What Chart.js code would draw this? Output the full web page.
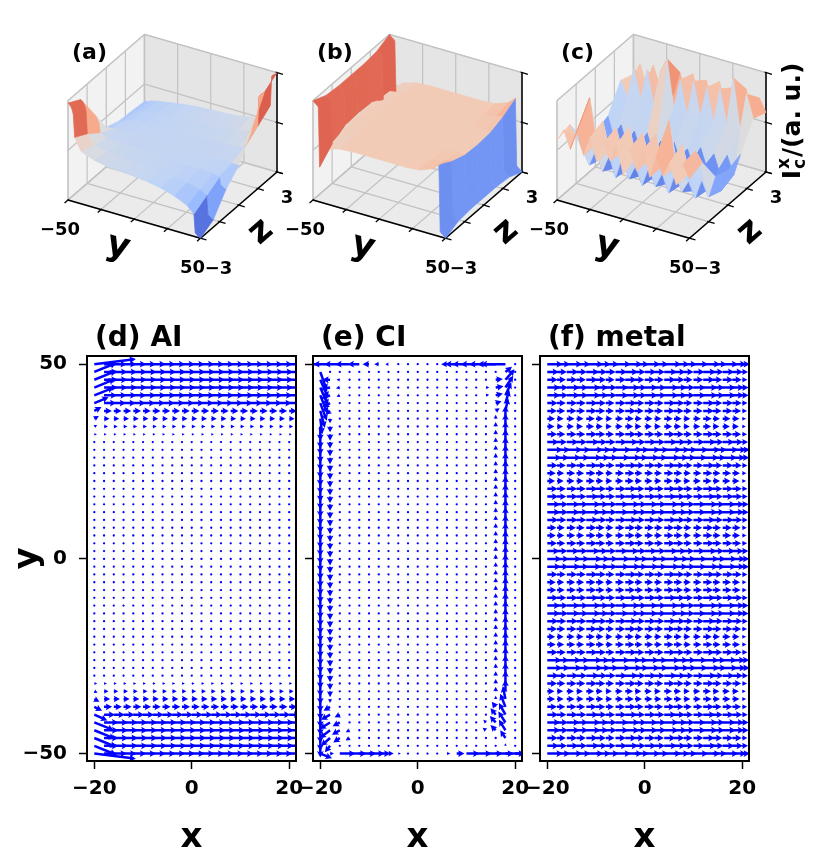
<!DOCTYPE html>
<html>
<head>
<meta charset="utf-8">
<title>Critical current surfaces and current flow</title>
<script src="https://cdn.jsdelivr.net/npm/chart.js@4.4.1/dist/chart.umd.min.js"></script>
<style>
  html, body { margin: 0; padding: 0; background: #fff; }
  #fig { position: relative; width: 830px; height: 856px; overflow: hidden; }
  #fig canvas { position: absolute; }
</style>
</head>
<body>
<div id="fig">
  <canvas id="surfA" width="292" height="268" style="left:6px; top:30px;"></canvas>
  <canvas id="surfB" width="292" height="268" style="left:251px; top:30px;"></canvas>
  <canvas id="surfC" width="325" height="268" style="left:495px; top:30px;"></canvas>
  <canvas id="quivD" width="320" height="550" style="left:0px; top:310px;"></canvas>
  <canvas id="quivE" width="262" height="550" style="left:280px; top:310px;"></canvas>
  <canvas id="quivF" width="262" height="550" style="left:507px; top:310px;"></canvas>
</div>
<script>
Chart.defaults.font.family = "'DejaVu Sans', 'Liberation Sans', sans-serif";
Chart.defaults.font.weight = 'bold';
Chart.defaults.color = '#000';

// ---------- top row: I_c^x(y, z) ----------
var surfY = [-50, -49, -48, -47, -46, -45, -40, -30, -20, -10, 0, 10, 20, 30, 40, 45, 46, 47, 48, 49, 50];
var surfYBlocks = [0, 5, 6, 7, 8, 9, 10, 11, 12, 13, 14, 15, 20];   // facet borders (indices into surfY)
var surfZ = [-3, -2, -1, 0, 1, 2, 3];
// rows are z = -3 .. 3, columns follow surfY
var surfAI = [
  [0.95, 0.93, 0.90, 0.85, 0.75, 0.30, 0.05, -0.05, -0.10, -0.12, -0.14, -0.17, -0.22, -0.30, -0.42, -0.55, -0.92, -0.95, -0.97, -0.99, -1.00],
  [0.80, 0.78, 0.75, 0.70, 0.60, 0.15, -0.05, -0.10, -0.13, -0.15, -0.16, -0.18, -0.22, -0.26, -0.32, -0.40, -0.78, -0.80, -0.82, -0.84, -0.85],
  [0.30, 0.28, 0.25, 0.20, 0.15, -0.05, -0.13, -0.15, -0.16, -0.17, -0.17, -0.18, -0.19, -0.20, -0.22, -0.25, -0.40, -0.42, -0.44, -0.45, -0.46],
  [-0.20, -0.20, -0.20, -0.20, -0.20, -0.19, -0.18, -0.18, -0.18, -0.18, -0.18, -0.18, -0.18, -0.18, -0.18, -0.19, -0.20, -0.20, -0.20, -0.20, -0.20],
  [-0.30, -0.30, -0.30, -0.29, -0.28, -0.25, -0.22, -0.20, -0.19, -0.18, -0.17, -0.17, -0.16, -0.15, -0.13, -0.10, 0.15, 0.20, 0.22, 0.25, 0.28],
  [-0.32, -0.31, -0.31, -0.30, -0.29, -0.27, -0.25, -0.22, -0.20, -0.18, -0.16, -0.15, -0.13, -0.10, -0.05, 0.10, 0.70, 0.75, 0.78, 0.80, 0.82],
  [-0.35, -0.34, -0.34, -0.33, -0.32, -0.30, -0.27, -0.22, -0.18, -0.15, -0.13, -0.12, -0.10, -0.05, 0.05, 0.30, 0.90, 0.93, 0.95, 0.97, 1.00]
];
var surfCI = [
  [1.00, 0.97, 0.95, 0.93, 0.90, -0.30, 0.10, 0.18, 0.20, 0.20, 0.20, 0.20, 0.20, 0.22, 0.32, 0.45, -0.90, -0.93, -0.95, -0.97, -1.00],
  [0.88, 0.87, 0.86, 0.85, 0.84, -0.05, 0.15, 0.20, 0.20, 0.20, 0.20, 0.20, 0.20, 0.21, 0.26, 0.30, -0.80, -0.82, -0.84, -0.86, -0.88],
  [0.85, 0.84, 0.83, 0.82, 0.80, 0.10, 0.18, 0.20, 0.20, 0.20, 0.20, 0.20, 0.20, 0.20, 0.22, 0.20, -0.78, -0.80, -0.82, -0.83, -0.85],
  [0.85, 0.84, 0.83, 0.82, 0.80, 0.12, 0.18, 0.20, 0.20, 0.20, 0.20, 0.20, 0.20, 0.20, 0.20, 0.18, -0.78, -0.80, -0.82, -0.83, -0.85],
  [0.85, 0.84, 0.83, 0.82, 0.80, 0.10, 0.18, 0.20, 0.20, 0.20, 0.20, 0.20, 0.20, 0.20, 0.22, 0.20, -0.78, -0.80, -0.82, -0.83, -0.85],
  [0.88, 0.87, 0.86, 0.85, 0.84, -0.05, 0.15, 0.20, 0.20, 0.20, 0.20, 0.20, 0.20, 0.21, 0.26, 0.30, -0.80, -0.82, -0.84, -0.86, -0.88],
  [1.00, 0.97, 0.95, 0.93, 0.90, -0.25, 0.10, 0.18, 0.20, 0.20, 0.20, 0.20, 0.20, 0.22, 0.32, 0.45, -0.90, -0.93, -0.95, -0.97, -1.00]
];
var metalY = [-50, -45, -40, -35, -30, -25, -20, -15, -10, -5, 0, 5, 10, 15, 20, 25, 30, 35, 40, 45, 50];
var metalYBlocks = [0, 1, 2, 3, 4, 5, 6, 7, 8, 9, 10, 11, 12, 13, 14, 15, 16, 17, 18, 19, 20];
var surfMetal = [
  [0.20, 0.45, 0.10, 0.50, 0.05, 0.45, 0.00, 0.40, 0.10, 0.45, -0.10, 0.45, 0.05, 0.50, 0.00, 0.45, 0.10, 0.40, 0.00, 0.45, 0.20],
  [0.30, 0.10, 0.55, 0.95, 0.05, 0.55, 0.00, 0.50, 0.05, 0.60, 0.00, 0.55, 0.05, 0.60, 0.00, 0.95, 0.05, 0.55, 0.00, 0.50, 0.30],
  [-0.20, -0.70, -0.35, -0.75, -0.40, -0.80, -0.35, -0.75, -0.45, -0.80, -0.40, -0.75, -0.45, -0.80, -0.35, -0.70, -0.45, -0.75, -0.35, -0.65, -0.20],
  [-0.30, -0.80, -0.45, -0.90, -0.50, -0.85, -0.45, -0.90, -0.55, -0.85, -0.50, -0.90, -0.45, -0.85, -0.50, -0.90, -0.45, -0.80, -0.50, -0.75, -0.30],
  [-0.20, -0.65, -0.30, -0.75, -0.35, -0.75, -0.30, -0.70, -0.40, -0.75, -0.35, -0.70, -0.40, -0.75, -0.30, -0.70, -0.35, -0.75, -0.30, -0.65, -0.20],
  [0.30, 0.00, 0.60, 0.05, 0.65, 0.00, 0.70, 1.00, 0.05, 0.65, 0.00, 0.70, 0.05, 0.65, 0.00, 0.70, 0.05, 1.00, 0.00, 0.75, 0.30],
  [0.20, 0.45, 0.05, 0.50, 0.10, 0.55, 0.00, 0.50, 0.10, 0.55, 0.05, 0.50, 0.10, 0.55, 0.00, 0.50, 0.10, 0.55, 0.05, 0.45, 0.20]
];
var surfYTicks = [-50, -25, 0, 25, 50];
var surfYLabels = ['\u221250', '', '', '', '50'];
var surfZTicks = [-3, -1.5, 0, 1.5, 3];
var surfZLabels = ['\u22123', '', '', '', '3'];
var surfVTicks = [-1, 0, 1];

// ---------- bottom row: current vectors on the (x, y) grid ----------
var quiverX = [-20, -18, -16, -14, -12, -10, -8, -6, -4, -2, 0, 2, 4, 6, 8, 10, 12, 14, 16, 18, 20];
var quiverY = [-50, -48, -46, -44, -42, -40, -38, -36, -34, -32, -30, -28, -26, -24, -22, -20, -18, -16, -14, -12,
  -10, -8, -6, -4, -2, 0, 2, 4, 6, 8, 10, 12, 14, 16, 18, 20, 22, 24, 26, 28,
  30, 32, 34, 36, 38, 40, 42, 44, 46, 48, 50];
var xTicks = [-20, 0, 20];
var yTicks = [-50, 0, 50];

// (d) AI: x-component of each row (y = -50 .. 50)
var aiU = [1.0, 1.1, 1.1, 1.1, 1.1, 0.85, 0.62, 0.47, 0.34, 0.22,
  0.08, 0.04, 0.03, 0.03, 0.03, 0.03, 0.03, 0.03, 0.03, 0.03,
  0.03, 0.03, 0.03, 0.03, 0.03, 0.03, 0.03, 0.03, 0.03, 0.03,
  0.03, 0.03, 0.03, 0.03, 0.03, 0.03, 0.03, 0.03, 0.03, 0.04,
  0.08, 0.2, 0.3, 0.42, 0.6, 0.95, 1.0, 1.05, 1.05, 1.05, 1.0];
// (d) AI: left column x = -20, [y, u, v]
var aiEdge = [[50, 3.2, 0.4], [48, 1.7, 0.7], [46, 1.7, 0.7], [44, 1.6, 0.65], [42, 1.5, 0.6], [40, 1.1, 0.45],
  [38, 0.55, 0.3], [36, 0.35, 0.2], [34, 0.22, 0.12],
  [-34, 0.25, -0.12], [-36, 0.4, -0.2], [-38, 0.6, -0.3], [-40, 1.0, -0.45], [-42, 1.5, -0.6],
  [-44, 1.6, -0.65], [-46, 1.7, -0.7], [-48, 1.7, -0.7], [-50, 3.2, -0.4]];

// (e) CI: top row (y = 50) and bottom row (y = -50), x-components for x = -20 .. 20
var ciTopU = [-1.3, -1.3, -1.2, -1.1, -0.9, -0.5, -0.35, -0.25, -0.15, -0.08, -0.05,
  -0.05, -0.1, -0.45, -0.9, -1.1, -1.2, -1.3, -1.4, -1.9, -0.04];
var ciBottomU = [0, 0.3, 1.2, 1.3, 1.3, 1.2, 0.9, 0.4, 0.2, 0.1, 0.05,
  0.05, 0.1, 0.25, 0.6, 1.0, 1.2, 1.3, 1.4, 1.5, 1.6];
// (e) CI: y-components of the edge columns, y = -50 .. 50
var ciLeftV1 = [0, -0.9, -1.0, -1.0, -1.0, -1.0, -1.0, -1.0, -1.0, -1.0,
  -1.0, -1.0, -1.0, -1.0, -1.0, -1.0, -1.0, -1.0, -1.0, -1.0,
  -1.0, -1.0, -1.0, -1.0, -1.0, -1.0, -1.0, -1.0, -1.0, -1.0,
  -1.0, -1.0, -1.0, -1.0, -1.0, -1.0, -1.0, -1.0, -1.0, -1.0,
  -1.0, -1.1, -1.1, -1.1, -1.0, -1.0, -1.0, -1.0, -1.0, -1.0, 0];
var ciLeftV2 = [0, 0, 0, 0, 0, 0, 0, -0.3, -0.45, -0.5,
  -0.5, -0.5, -0.5, -0.5, -0.5, -0.5, -0.5, -0.5, -0.5, -0.5,
  -0.5, -0.5, -0.5, -0.5, -0.5, -0.5, -0.5, -0.5, -0.5, -0.5,
  -0.5, -0.5, -0.5, -0.5, -0.5, -0.5, -0.5, -0.5, -0.5, -0.5,
  -0.5, -0.5, -0.45, -0.35, 0, 0, 0, 0, 0, 0, 0];
var ciRightV1 = [0, 0.2, 0, 0, 0, 0, 0, 0, 0.9, 1.0,
  1.0, 1.0, 1.0, 1.0, 1.0, 1.0, 1.0, 1.0, 1.0, 1.0,
  1.0, 1.0, 1.0, 1.0, 1.0, 1.0, 1.0, 1.0, 1.0, 1.0,
  1.0, 1.0, 1.0, 1.0, 1.0, 1.0, 1.0, 1.0, 1.0, 1.0,
  1.0, 1.0, 1.0, 1.0, 0, 0, 0, 0, 0, 0, 0];
var ciRightV2 = [0, 0.05, 0.1, 0, 0, 0, 0, 0.25, 0.35, 0.35,
  0.35, 0.35, 0.35, 0.35, 0.35, 0.35, 0.35, 0.35, 0.35, 0.35,
  0.35, 0.35, 0.35, 0.35, 0.35, 0.35, 0.35, 0.35, 0.35, 0.35,
  0.35, 0.35, 0.35, 0.35, 0.35, 0.35, 0.35, 0.35, 0.35, 0.35,
  0.35, 0.35, 0.35, 0.3, 0, 0, 0, 0, 0, 0.05, 0];
// (e) CI: corner vectors [x, y, u, v]
var ciCorners = [
  [-20, 48, 0.5, -1.4], [-20, 46, 0.6, -1.4], [-20, 44, 0.6, -1.4], [-20, 42, 0.55, -1.4],
  [-20, 40, 0.5, -1.35], [-20, 38, 0.35, -1.3], [-20, 36, 0.15, -1.2],
  [-18, 46, -0.6, 0], [-18, 44, -0.7, -0.15], [-18, 42, -0.7, -0.25], [-18, 40, -0.55, -0.3], [-18, 38, -0.35, -0.3],
  [-16, 46, -0.25, 0], [-16, 44, -0.3, -0.05], [-16, 42, -0.25, -0.1],
  [18, 48, 0.5, 0.4], [18, 46, 0.7, 0.8], [18, 44, 0.6, 0.9], [18, 42, 0.45, 1.0], [18, 40, 0.3, 1.0], [18, 38, 0.2, 1.0],
  [16, 46, 0.55, 0.05], [16, 44, 0.6, 0.1], [16, 42, 0.55, 0.15], [16, 40, 0.45, 0.15], [16, 38, 0.3, 0.2],
  [14, 44, 0.25, 0], [14, 42, 0.25, 0.05],
  [-20, -50, 0.9, -0.35],
  [-18, -38, -0.5, -0.3], [-18, -40, -0.7, -0.4], [-18, -42, -0.8, -0.5], [-18, -44, -0.8, -0.6],
  [-18, -46, -0.7, -0.6], [-18, -48, -0.4, -0.5],
  [-16, -40, -0.4, -0.2], [-16, -42, -0.55, -0.3], [-16, -44, -0.6, -0.35], [-16, -46, -0.5, -0.35],
  [-14, -44, -0.3, -0.15], [-14, -46, -0.3, -0.2],
  [18, -36, -0.2, 1.0], [18, -38, -0.4, 1.0], [18, -40, -0.5, 0.9], [18, -42, -0.55, 0.85],
  [18, -44, -0.5, 0.8], [18, -46, -0.4, 0.6],
  [16, -38, -0.3, 0.4], [16, -40, -0.4, 0.5], [16, -42, -0.45, 0.5], [16, -44, -0.4, 0.4],
  [14, -42, -0.2, 0.2], [14, -44, -0.25, 0.2]
];
var ciDot = 0.02;

// (f) metal: row strength (y = -50 .. 50) and column weights (x = -20 .. 20)
var metalU = [1.2, 0.9, 0.8, 1.0, 1.0, 0.85, 0.75, 0.6, 0.55, 0.75,
  0.9, 1.15, 1.1, 0.8, 0.65, 0.6, 0.75, 0.85, 1.0, 1.0,
  0.85, 0.7, 0.65, 0.8, 1.05, 1.1, 0.95, 0.75, 0.65, 0.7,
  0.85, 1.0, 1.0, 0.85, 0.8, 0.6, 0.65, 0.8, 1.1, 1.2,
  0.9, 0.75, 0.55, 0.6, 0.75, 0.8, 1.0, 1.0, 0.8, 0.9, 1.2];
var metalColW = [1.0, 0.85, 1.0, 0.9, 1.1, 0.95, 0.85, 1.0, 1.1, 0.9, 1.0,
  0.9, 1.1, 1.0, 0.85, 0.95, 1.1, 0.9, 1.0, 0.9, 0.5];

// ---------- drawing constants ----------
var PXU = 153;       // pixels per unit of the 3-D box
var ZM = 0.75;       // box height (4:4:3)
var ARROW_PX = 13;   // pixels per unit of current
var SHAFT_W = 2.5, HEAD_W = 6.8, HEAD_L = 6.4, HEAD_AX = 5.6, DOT_R = 1.15;
var coolwarm = ['#3b4cc0', '#5a78e4', '#7b9ff9', '#9ebeff', '#c0d4f5', '#dddcdc',
  '#f2cbb7', '#f7ac8e', '#ee8468', '#d65244', '#b40426'];

function hexRgb(h) { return [parseInt(h.substr(1, 2), 16), parseInt(h.substr(3, 2), 16), parseInt(h.substr(5, 2), 16)]; }
function cmap(t) {
  t = Math.max(0, Math.min(1, t));
  var f = t * 10, i = Math.min(9, Math.floor(f)), r = f - i;
  var a = hexRgb(coolwarm[i]), b = hexRgb(coolwarm[i + 1]);
  return 'rgb(' + [0, 1, 2].map(function (k) { return Math.round(a[k] + (b[k] - a[k]) * r); }).join(',') + ')';
}
function minus(v) { return String(v).replace('-', '\u2212'); }

function surfacePlugin(ys, blocks, vals, letter, withValueLabel) {
  return {
    id: 'surface3d',
    afterDraw: function (chart) {
      var ctx = chart.ctx, sx = chart.scales.x, sy = chart.scales.y;
      function P(X, Y, Z) {
        return [sx.getPixelForValue(0.866 * X + 0.5 * Y), sy.getPixelForValue(-0.25 * X + 0.433 * Y + 0.866 * Z)];
      }
      function nx(y) { return (y + 50) / 100; }
      function ny(z) { return (z + 3) / 6; }
      function nz(v) { return (v + 1) / 2 * ZM; }
      function path(pts) {
        ctx.beginPath();
        ctx.moveTo(pts[0][0], pts[0][1]);
        for (var k = 1; k < pts.length; k++) ctx.lineTo(pts[k][0], pts[k][1]);
        ctx.closePath();
      }
      function seg(a, b, color, lw) {
        ctx.beginPath(); ctx.moveTo(a[0], a[1]); ctx.lineTo(b[0], b[1]);
        ctx.strokeStyle = color; ctx.lineWidth = lw; ctx.stroke();
      }
      function text(str, x, y, font, rot, align) {
        ctx.save(); ctx.translate(x, y); ctx.rotate(rot || 0);
        ctx.font = font; ctx.fillStyle = '#000';
        ctx.textAlign = align || 'center'; ctx.textBaseline = 'middle';
        ctx.fillText(str, 0, 0); ctx.restore();
      }
      ctx.save();
      ctx.lineJoin = 'round';

      // back panes
      [[[[0, 0, 0], [0, 1, 0], [0, 1, ZM], [0, 0, ZM]], '#f2f2f2'],
       [[[0, 1, 0], [1, 1, 0], [1, 1, ZM], [0, 1, ZM]], '#e5e5e5'],
       [[[0, 0, 0], [1, 0, 0], [1, 1, 0], [0, 1, 0]], '#ebebeb']].forEach(function (p) {
        path(p[0].map(function (q) { return P(q[0], q[1], q[2]); }));
        ctx.fillStyle = p[1]; ctx.fill();
        ctx.strokeStyle = '#d6d6d6'; ctx.lineWidth = 1.5; ctx.stroke();
      });
      // grid on panes
      var gc = '#c2c2c2', gw = 1.2;
      surfYTicks.forEach(function (t) {
        var X = nx(t);
        seg(P(X, 0, 0), P(X, 1, 0), gc, gw); seg(P(X, 1, 0), P(X, 1, ZM), gc, gw);
      });
      surfZTicks.forEach(function (t) {
        var Y = ny(t);
        seg(P(0, Y, 0), P(1, Y, 0), gc, gw); seg(P(0, Y, 0), P(0, Y, ZM), gc, gw);
      });
      surfVTicks.forEach(function (t) {
        var Z = nz(t);
        seg(P(0, 0, Z), P(0, 1, Z), gc, gw); seg(P(0, 1, Z), P(1, 1, Z), gc, gw);
      });
      // axis lines and ticks
      seg(P(0, 0, 0), P(1, 0, 0), '#000', 1.5);
      seg(P(1, 0, 0), P(1, 1, 0), '#000', 1.5);
      seg(P(1, 1, 0), P(1, 1, ZM), '#000', 1.5);
      surfYTicks.forEach(function (t) { seg(P(nx(t), 0.01, 0), P(nx(t), -0.045, 0), '#000', 1.3); });
      surfZTicks.forEach(function (t) { seg(P(0.99, ny(t), 0), P(1.045, ny(t), 0), '#000', 1.3); });
      surfVTicks.forEach(function (t) { seg(P(0.99, 1, nz(t)), P(1.045, 1, nz(t)), '#000', 1.3); });

      // surface facets (one polygon per block, coloured by the mean of its outline), far to near
      var flat = [].concat.apply([], vals);
      var vmin = Math.min.apply(null, flat), vmax = Math.max.apply(null, flat);
      var polys = [];
      for (var i = 0; i < surfZ.length - 1; i++) {
        for (var b = 0; b < blocks.length - 1; b++) {
          var idx = [], j;
          for (j = blocks[b]; j <= blocks[b + 1]; j++) idx.push([j, i]);
          for (j = blocks[b + 1]; j >= blocks[b]; j--) idx.push([j, i + 1]);
          var pts3 = idx.map(function (c) { return [nx(ys[c[0]]), ny(surfZ[c[1]]), nz(vals[c[1]][c[0]])]; });
          var avg = idx.reduce(function (s, c) { return s + vals[c[1]][c[0]]; }, 0) / idx.length;
          var depth = pts3.reduce(function (s, p) { return s + 0.433 * p[0] - 0.75 * p[1] + 0.5 * p[2]; }, 0) / pts3.length;
          polys.push({ pts: pts3, avg: avg, depth: depth });
        }
      }
      polys.sort(function (a, c) { return a.depth - c.depth; });
      polys.forEach(function (q) {
        path(q.pts.map(function (p) { return P(p[0], p[1], p[2]); }));
        var col = cmap((q.avg - vmin) / (vmax - vmin));
        ctx.fillStyle = col; ctx.fill();
        ctx.strokeStyle = col; ctx.lineWidth = 0.7; ctx.stroke();
      });

      // labels
      var o = P(0, 0, 0);
      var tf = 'bold 18px "DejaVu Sans"';
      text(letter, o[0] + 4, o[1] - 147, 'bold 22px "DejaVu Sans"', 0, 'left');
      surfYTicks.forEach(function (t, k) {
        if (!surfYLabels[k]) return;
        var p = P(nx(t), 0, 0);
        text(surfYLabels[k], p[0] - 8, p[1] + 30, tf);
      });
      surfZTicks.forEach(function (t, k) {
        if (!surfZLabels[k]) return;
        var Y = ny(t), p = P(1, Y, 0);
        text(surfZLabels[k], p[0] + 18 - 8 * Y, p[1] + 31 - 5 * Y, tf);
      });
      text('y', o[0] + 50, o[1] + 47, 'bold 35px "DejaVu Sans"', 16 * Math.PI / 180);
      text('z', o[0] + 193, o[1] + 32, 'bold 35px "DejaVu Sans"', -41 * Math.PI / 180);
      if (withValueLabel) {
        ctx.save();
        ctx.translate(o[0] + 235, o[1] - 79);
        ctx.rotate(-Math.PI / 2);
        ctx.fillStyle = '#000'; ctx.textAlign = 'left'; ctx.textBaseline = 'alphabetic';
        var big = 'bold 25px "DejaVu Sans"', small = 'bold 17px "DejaVu Sans"';
        ctx.font = big;
        var wI = ctx.measureText('I').width, wR = ctx.measureText('/(a. u.)').width;
        ctx.font = small;
        var wS = Math.max(ctx.measureText('x').width, ctx.measureText('c').width);
        var x0 = -(wI + wS + 2 + wR) / 2, base = 8;
        ctx.font = big; ctx.fillText('I', x0, base);
        ctx.font = small; ctx.fillText('x', x0 + wI + 1, base - 11); ctx.fillText('c', x0 + wI + 1, base + 5);
        ctx.font = big; ctx.fillText('/(a. u.)', x0 + wI + wS + 2, base);
        ctx.restore();
      }
      ctx.restore();
    }
  };
}

function surfaceChart(id, ys, blocks, vals, letter, withValueLabel) {
  var cv = document.getElementById(id);
  var ox = 62, oy = 170;
  return new Chart(cv, {
    type: 'scatter',
    data: { datasets: [{ data: [], pointRadius: 0 }] },
    options: {
      responsive: false, animation: false, events: [],
      layout: { padding: 0 },
      plugins: { legend: { display: false }, tooltip: { enabled: false } },
      scales: {
        x: { type: 'linear', display: false, min: -ox / PXU, max: (cv.width - ox) / PXU },
        y: { type: 'linear', display: false, min: -(cv.height - oy) / PXU, max: oy / PXU }
      }
    },
    plugins: [surfacePlugin(ys, blocks, vals, letter, withValueLabel)]
  });
}

function drawArrow(ctx, x0, y0, dx, dy) {
  var L = Math.sqrt(dx * dx + dy * dy);
  if (L < SHAFT_W) {
    ctx.beginPath(); ctx.arc(x0, y0, DOT_R, 0, 2 * Math.PI); ctx.fill();
    return;
  }
  var k = L < HEAD_L ? L / HEAD_L : 1;
  var sw = SHAFT_W / 2 * k, hw = HEAD_W / 2 * k, hl = HEAD_L * k, ha = HEAD_AX * k;
  ctx.save();
  ctx.translate(x0, y0);
  ctx.rotate(Math.atan2(dy, dx));
  ctx.beginPath();
  ctx.moveTo(0, -sw);
  ctx.lineTo(L - ha, -sw);
  ctx.lineTo(L - hl, -hw);
  ctx.lineTo(L, 0);
  ctx.lineTo(L - hl, hw);
  ctx.lineTo(L - ha, sw);
  ctx.lineTo(0, sw);
  ctx.closePath();
  ctx.fill();
  ctx.restore();
}

function quiverPlugin(title) {
  return {
    id: 'quiver',
    afterDatasetsDraw: function (chart) {
      var ctx = chart.ctx, area = chart.chartArea;
      var meta = chart.getDatasetMeta(0), raw = chart.data.datasets[0].data;
      ctx.save();
      ctx.beginPath();
      ctx.rect(area.left, area.top, area.right - area.left, area.bottom - area.top);
      ctx.clip();
      ctx.fillStyle = '#0000ff';
      meta.data.forEach(function (pt, i) {
        drawArrow(ctx, pt.x, pt.y, raw[i].u * ARROW_PX, -raw[i].v * ARROW_PX);
      });
      ctx.restore();
      ctx.save();
      ctx.strokeStyle = '#000'; ctx.lineWidth = 2;
      ctx.strokeRect(area.left, area.top, area.right - area.left, area.bottom - area.top);
      ctx.fillStyle = '#000';
      ctx.font = 'bold 28px "DejaVu Sans"';
      ctx.textAlign = 'left'; ctx.textBaseline = 'alphabetic';
      ctx.fillText(title, area.left + 8, area.top - 10);
      ctx.restore();
    }
  };
}

function quiverChart(id, vectors, title, opt) {
  var tickFont = { size: 20, weight: 'bold' };
  var labelFont = { size: 34, weight: 'bold' };
  return new Chart(document.getElementById(id), {
    type: 'scatter',
    data: { datasets: [{ data: vectors, pointRadius: 0, pointHoverRadius: 0 }] },
    options: {
      responsive: false, animation: false, events: [],
      layout: { padding: { left: opt.padLeft, top: 46, right: opt.padRight, bottom: 0 } },
      plugins: { legend: { display: false }, tooltip: { enabled: false } },
      scales: {
        x: {
          type: 'linear', min: -21.5, max: 21.4,
          afterBuildTicks: function (s) { s.ticks = xTicks.map(function (v) { return { value: v }; }); },
          afterFit: function (s) { s.height = 99; },
          ticks: { font: tickFont, color: '#000', padding: 8, maxRotation: 0, minRotation: 0, autoSkip: false, callback: minus },
          grid: { drawOnChartArea: false, drawTicks: true, tickLength: 8, color: '#000', tickColor: '#000', tickWidth: 1.5 },
          border: { display: false },
          title: { display: true, text: 'x', font: labelFont, color: '#000', padding: { top: 0, bottom: 1 } }
        },
        y: {
          type: 'linear', min: -51.9, max: 52.1,
          afterBuildTicks: function (s) { s.ticks = yTicks.map(function (v) { return { value: v }; }); },
          afterFit: function (s) { s.width = opt.yWidth; },
          ticks: { font: tickFont, color: '#000', padding: 12, autoSkip: false,
            callback: opt.yLabels ? minus : function () { return ''; } },
          grid: { drawOnChartArea: false, drawTicks: true, tickLength: 8, color: '#000', tickColor: '#000', tickWidth: 1.5 },
          border: { display: false },
          title: { display: !!opt.yTitle, text: opt.yTitle || '', font: labelFont, color: '#000', padding: { top: 8, bottom: 0 } }
        }
      }
    },
    plugins: [quiverPlugin(title)]
  });
}

function gridVectors(pick) {
  var out = [];
  quiverY.forEach(function (y, i) {
    quiverX.forEach(function (x, j) {
      var uv = pick(i, j, x, y);
      out.push({ x: x, y: y, u: uv[0], v: uv[1] });
    });
  });
  return out;
}

var aiVectors = gridVectors(function (i, j, x, y) {
  if (x === -20) {
    var e = aiEdge.filter(function (r) { return r[0] === y; })[0];
    if (e) return [e[1], e[2]];
  }
  return [aiU[i], 0];
});

var ciVectors = gridVectors(function (i, j, x, y) {
  var c = ciCorners.filter(function (r) { return r[0] === x && r[1] === y; })[0];
  if (c) return [c[2], c[3]];
  if (i === quiverY.length - 1 && ciTopU[j]) return [ciTopU[j], 0];
  if (i === 0 && ciBottomU[j]) return [ciBottomU[j], 0];
  if (x === -20 && ciLeftV1[i]) return [0, ciLeftV1[i]];
  if (x === -18 && ciLeftV2[i]) return [0, ciLeftV2[i]];
  if (x === 18 && ciRightV1[i]) return [0, ciRightV1[i]];
  if (x === 16 && ciRightV2[i]) return [0, ciRightV2[i]];
  return [ciDot, 0];
});

var metalVectors = gridVectors(function (i, j) { return [metalU[i] * metalColW[j], 0]; });

surfaceChart('surfA', surfY, surfYBlocks, surfAI, '(a)', false);
surfaceChart('surfB', surfY, surfYBlocks, surfCI, '(b)', false);
surfaceChart('surfC', metalY, metalYBlocks, surfMetal, '(c)', true);

quiverChart('quivD', aiVectors, '(d) AI', { padLeft: 0, padRight: 24, yWidth: 87, yLabels: true, yTitle: 'y' });
quiverChart('quivE', ciVectors, '(e) CI', { padLeft: 20, padRight: 20, yWidth: 13, yLabels: false });
quiverChart('quivF', metalVectors, '(f) metal', { padLeft: 20, padRight: 20, yWidth: 13, yLabels: false });
</script>
</body>
</html>
